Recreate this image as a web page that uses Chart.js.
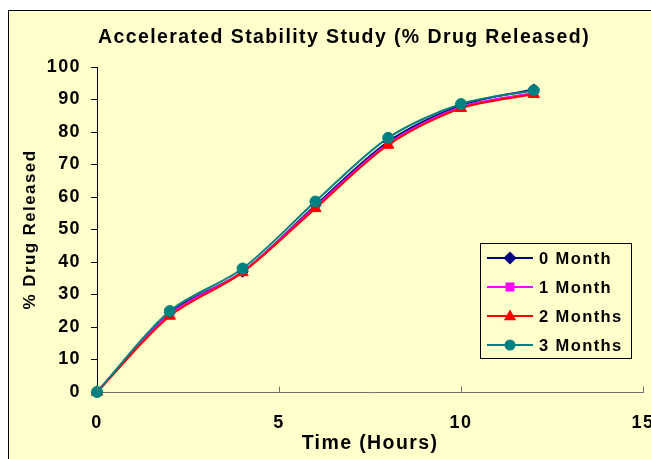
<!DOCTYPE html>
<html>
<head>
<meta charset="utf-8">
<script src="https://cdn.jsdelivr.net/npm/chart.js@4.4.1/dist/chart.umd.min.js"></script>
<style>
  html, body { margin: 0; padding: 0; background: #ffffff; overflow: hidden; }
  #wrap { position: relative; width: 651px; height: 459px; }
  #bg { position: absolute; left: 8px; top: 10px; width: 700px; height: 500px;
        background: #FFFFCC; border-left: 1px solid #000; border-top: 1px solid #000; }
  #c { position: absolute; left: 0; top: 0; }
</style>
</head>
<body>
<div id="wrap">
  <div id="bg"></div>
  <canvas id="c" width="651" height="459"></canvas>
</div>
<script>
const chartTitle = 'Accelerated Stability Study (% Drug Released)';
const xTitle = 'Time (Hours)';
const yTitle = '% Drug Released';
const timeHours = [0, 2, 4, 6, 8, 10, 12];
const seriesLabels = ['0 Month', '1 Month', '2 Months', '3 Months'];
const month0 = [0, 24.4, 37.0, 57.4, 77.0, 88.2, 93.1];
const month1 = [0, 24.0, 37.0, 57.0, 76.4, 87.7, 92.0];
const month2 = [0, 23.4, 36.8, 56.5, 76.0, 87.3, 91.6];
const month3 = [0, 24.9, 38.0, 58.6, 78.2, 88.6, 92.8];
const xTicks = [0, 5, 10, 15];
const yTicks = [0, 10, 20, 30, 40, 50, 60, 70, 80, 90, 100];

const seriesValues = [month0, month1, month2, month3];
const colors = ['#000080', '#FF00FF', '#FF0000', '#008080'];
const styles = ['rectRot', 'rect', 'triangle', 'circle'];
const radii = [5.5, 5, 6.5, 5.5];

const FONT = '"Liberation Sans", Arial, sans-serif';
const SPACING = '1.4px';

function pts(vals) { return timeHours.map((x, i) => ({ x: x, y: vals[i] })); }

const datasets = seriesValues.map((vals, i) => ({
  label: seriesLabels[i],
  data: pts(vals),
  borderColor: colors[i],
  backgroundColor: colors[i],
  pointBackgroundColor: colors[i],
  pointBorderColor: colors[i],
  pointStyle: styles[i],
  pointRadius: radii[i],
  pointBorderWidth: 1,
  borderWidth: 2,
  tension: 0.3,
  clip: false,
  order: 4 - i
}));

function drawMarker(ctx, style, r, x, y) {
  ctx.beginPath();
  if (style === 'circle') {
    ctx.arc(x, y, r, 0, Math.PI * 2);
  } else if (style === 'rect') {
    const s = r * 0.9;
    ctx.rect(x - s, y - s, 2 * s, 2 * s);
  } else if (style === 'rectRot') {
    ctx.moveTo(x, y - r * 1.2); ctx.lineTo(x + r * 1.2, y);
    ctx.lineTo(x, y + r * 1.2); ctx.lineTo(x - r * 1.2, y);
    ctx.closePath();
  } else if (style === 'triangle') {
    ctx.moveTo(x, y - r); ctx.lineTo(x + r * 0.95, y + r * 0.65);
    ctx.lineTo(x - r * 0.95, y + r * 0.65); ctx.closePath();
  }
  ctx.fill();
}

const spacingPlugin = {
  id: 'spacing',
  beforeLayout(chart) { chart.ctx.letterSpacing = SPACING; },
  beforeDraw(chart) { chart.ctx.letterSpacing = SPACING; }
};

const decorPlugin = {
  id: 'decor',
  afterDraw(chart) {
    const ctx = chart.ctx;
    const xs = chart.scales.x, ys = chart.scales.y;
    ctx.save();
    ctx.letterSpacing = SPACING;
    // x ticks drawn upward (inside)
    ctx.strokeStyle = '#707070';
    ctx.lineWidth = 1;
    const y0 = Math.round(ys.getPixelForValue(0)) + 0.5;
    xTicks.forEach(v => {
      const px = Math.round(xs.getPixelForValue(v)) + 0.5;
      ctx.beginPath(); ctx.moveTo(px, y0); ctx.lineTo(px, y0 - 6); ctx.stroke();
    });
    // title
    ctx.fillStyle = '#000';
    ctx.font = 'bold 19.5px ' + FONT;
    ctx.textAlign = 'center';
    ctx.textBaseline = 'middle';
    ctx.fillText(chartTitle, 344, 38);
    // legend
    const bx = 480.5, by = 243.5, bw = 151, bh = 115;
    ctx.strokeStyle = '#000';
    ctx.lineWidth = 1;
    ctx.strokeRect(bx, by, bw, bh);
    ctx.font = 'bold 16.5px ' + FONT;
    ctx.textAlign = 'left';
    const rowY = [258, 287, 316, 345];
    chart.data.datasets.forEach((ds, i) => {
      const yy = rowY[i];
      ctx.strokeStyle = ds.borderColor;
      ctx.lineWidth = 2;
      ctx.beginPath(); ctx.moveTo(487, yy); ctx.lineTo(533, yy); ctx.stroke();
      ctx.fillStyle = ds.pointBackgroundColor;
      drawMarker(ctx, ds.pointStyle, ds.pointRadius, 510, yy);
      ctx.fillStyle = '#000';
      ctx.fillText(ds.label, 539, yy + 1);
    });
    ctx.restore();
  }
};

new Chart(document.getElementById('c'), {
  type: 'line',
  data: { datasets: datasets },
  plugins: [spacingPlugin, decorPlugin],
  options: {
    responsive: false,
    animation: false,
    events: [],
    layout: { padding: { left: 8, top: 67, right: 8, bottom: 0 } },
    plugins: {
      legend: { display: false },
      title: { display: false },
      tooltip: { enabled: false }
    },
    scales: {
      x: {
        type: 'linear',
        min: 0, max: 15,
        afterBuildTicks(scale) { scale.ticks = xTicks.map(v => ({ value: v })); },
        afterFit(scale) { scale.height = 67; scale.paddingLeft = 0; scale.paddingRight = 0; },
        ticks: { color: '#000', font: { family: FONT, size: 18, weight: 'bold' }, padding: 20, maxRotation: 0, autoSkip: false },
        grid: { drawOnChartArea: false, drawTicks: false },
        border: { color: '#707070', width: 1 },
        title: { display: true, text: xTitle, color: '#000', font: { family: FONT, size: 19.5, weight: 'bold' }, padding: { top: 0, bottom: 4 } }
      },
      y: {
        type: 'linear',
        min: 0, max: 100,
        afterBuildTicks(scale) { scale.ticks = yTicks.map(v => ({ value: v })); },
        afterFit(scale) { scale.width = 89; scale.paddingTop = 0; scale.paddingBottom = 0; },
        ticks: { color: '#000', font: { family: FONT, size: 18, weight: 'bold' }, padding: 10 },
        grid: { drawOnChartArea: false, drawTicks: true, tickLength: 6, color: '#000' },
        border: { color: '#000', width: 1 },
        title: { display: true, text: yTitle, color: '#000', font: { family: FONT, size: 17, weight: 'bold' }, padding: { top: 12, bottom: 0 } }
      }
    }
  }
});
</script>
</body>
</html>
